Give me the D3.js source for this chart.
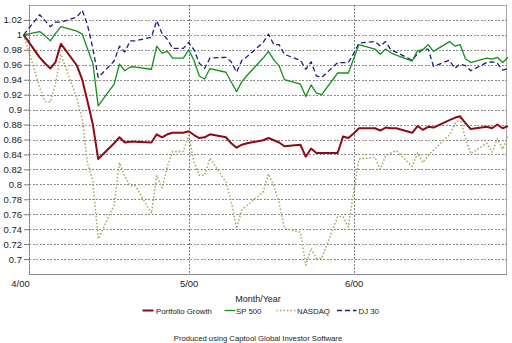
<!DOCTYPE html>
<html>
<head>
<meta charset="utf-8">
<script src="https://cdn.jsdelivr.net/npm/d3@7"></script>
<style>
  html, body { margin: 0; padding: 0; background: #fff; }
  svg { display: block; font-family: Arial, "Liberation Sans", sans-serif; }
</style>
</head>
<body>
<svg id="chart" width="512" height="343"></svg>
<script>
// Trading dates (growth of 1.00 invested on 3/31/00)
const dates = ["2000-03-31","2000-04-03","2000-04-04","2000-04-05","2000-04-06","2000-04-07",
  "2000-04-10","2000-04-11","2000-04-12","2000-04-13","2000-04-14",
  "2000-04-17","2000-04-18","2000-04-19","2000-04-20","2000-04-21",
  "2000-04-24","2000-04-25","2000-04-26","2000-04-27","2000-04-28","2000-04-30",
  "2000-05-01","2000-05-02","2000-05-03","2000-05-04","2000-05-05",
  "2000-05-08","2000-05-09","2000-05-10","2000-05-11","2000-05-12",
  "2000-05-15","2000-05-16","2000-05-17","2000-05-18","2000-05-19",
  "2000-05-22","2000-05-23","2000-05-24","2000-05-25","2000-05-26",
  "2000-05-29","2000-05-30","2000-05-31","2000-06-01","2000-06-02",
  "2000-06-05","2000-06-06","2000-06-07","2000-06-08","2000-06-09",
  "2000-06-12","2000-06-13","2000-06-14","2000-06-15","2000-06-16",
  "2000-06-19","2000-06-20","2000-06-21","2000-06-22","2000-06-23",
  "2000-06-26","2000-06-27","2000-06-28","2000-06-29","2000-06-30"];

const portfolio = [1.000,0.970,0.962,0.955,0.964,0.988,
  0.959,0.940,0.911,0.880,0.834,
  0.855,0.863,0.856,0.857,0.857,
  0.856,0.867,0.863,0.867,0.869,0.869,
  0.871,0.866,0.862,0.863,0.867,
  0.863,0.855,0.849,0.853,0.855,
  0.859,0.862,0.859,0.856,0.851,
  0.853,0.837,0.848,0.842,0.842,
  0.842,0.864,0.862,0.868,0.875,
  0.875,0.872,0.876,0.875,0.875,
  0.869,0.878,0.873,0.877,0.876,
  0.886,0.889,0.891,0.882,0.874,
  0.877,0.875,0.880,0.875,0.878];

const sp500 = [1.000,1.0045,0.999,0.992,1.002,1.011,
  1.005,1.001,0.981,0.962,0.905,
  0.934,0.961,0.952,0.957,0.957,
  0.954,0.985,0.9755,0.978,0.969,0.969,
  0.980,0.966,0.945,0.941,0.955,
  0.950,0.937,0.924,0.9375,0.946,
  0.969,0.978,0.9665,0.9585,0.940,
  0.934,0.9174,0.933,0.922,0.920,
  0.949,0.949,0.949,0.968,0.987,
  0.981,0.974,0.981,0.976,0.973,
  0.965,0.979,0.980,0.987,0.978,
  0.991,0.985,0.987,0.968,0.963,
  0.969,0.9675,0.970,0.963,0.970];

const nasdaq = [1.000,0.930,0.911,0.910,0.935,0.974,
  0.915,0.887,0.828,0.804,0.727,
  0.772,0.829,0.811,0.798,0.798,
  0.761,0.812,0.795,0.824,0.844,0.844,
  0.866,0.830,0.812,0.812,0.835,
  0.803,0.777,0.741,0.766,0.772,
  0.790,0.814,0.798,0.775,0.741,
  0.736,0.692,0.714,0.701,0.701,
  0.757,0.757,0.743,0.790,0.834,
  0.836,0.820,0.838,0.842,0.845,
  0.824,0.842,0.829,0.839,0.846,
  0.866,0.881,0.888,0.862,0.841,
  0.855,0.843,0.861,0.847,0.865];

const dj30 = [1.000,1.027,1.019,1.011,1.017,1.017,
  1.024,1.033,1.013,0.982,0.943,
  0.965,0.985,0.977,0.992,0.992,
  0.997,1.019,1.002,0.994,0.982,0.982,
  0.990,0.980,0.962,0.955,0.969,
  0.970,0.964,0.950,0.966,0.971,
  0.990,1.001,0.987,0.987,0.974,
  0.966,0.954,0.964,0.945,0.943,
  0.963,0.963,0.963,0.975,0.989,
  0.991,0.985,0.991,0.980,0.977,
  0.966,0.975,0.981,0.981,0.958,
  0.966,0.955,0.961,0.959,0.952,
  0.963,0.964,0.962,0.953,0.955];

const seriesNames = ["Portfolio Growth", "SP 500", "NASDAQ", "DJ 30"];
const monthTicks = ["2000-04-01", "2000-05-01", "2000-06-01"];
const yTicks = d3.range(0, 17).map(i => Math.round((0.70 + 0.02 * i) * 100) / 100);

const parse = d3.timeParse("%Y-%m-%d");
const dateObjs = dates.map(parse);

const plot = { left: 29, top: 5, right: 506, bottom: 274 };

const x = d3.scaleTime()
  .domain([parse("2000-04-01"), parse("2000-06-30")])
  .range([plot.left, plot.left + 479]);
const y = d3.scaleLinear().domain([0.68, 1.04]).range([plot.bottom, plot.top]);

const svg = d3.select("#chart");

// plot frame
svg.append("rect")
  .attr("x", plot.left + 0.5).attr("y", plot.top + 0.5)
  .attr("width", plot.right - plot.left).attr("height", plot.bottom - plot.top)
  .attr("fill", "#fff").attr("stroke", "#a8a8a8").attr("stroke-width", 1);

// horizontal grid
const gridY = svg.append("g")
  .attr("transform", `translate(${plot.left},0)`)
  .call(d3.axisLeft(y).tickValues(yTicks).tickSize(-(plot.right - plot.left)).tickFormat(""));
gridY.select(".domain").remove();
gridY.selectAll("line").attr("stroke", "#8a8a8a").attr("stroke-dasharray", "2,1.5")
  .attr("shape-rendering", "crispEdges");

// vertical month grid
svg.append("g").selectAll("line")
  .data(monthTicks.map(parse))
  .join("line")
  .attr("x1", d => Math.round(x(d)) + 0.5).attr("x2", d => Math.round(x(d)) + 0.5)
  .attr("y1", plot.top).attr("y2", plot.bottom)
  .attr("stroke", "#777").attr("stroke-dasharray", "2,1.5");

// bottom axis line
svg.append("line")
  .attr("x1", plot.left).attr("x2", plot.right)
  .attr("y1", plot.bottom + 0.5).attr("y2", plot.bottom + 0.5)
  .attr("stroke", "#888");

// y axis ticks and labels
const yAxis = svg.append("g")
  .attr("transform", `translate(${plot.left},0)`)
  .call(d3.axisLeft(y).tickValues(yTicks).tickSize(5).tickPadding(2)
    .tickFormat(d => String(+d.toFixed(2))));
yAxis.select(".domain").remove();
yAxis.selectAll("line").attr("stroke", "#777");
yAxis.selectAll("text").attr("font-size", "9.5px").attr("fill", "#222")
  .attr("font-family", "Arial, 'Liberation Sans', sans-serif");

// x axis labels
const xAxis = svg.append("g")
  .attr("transform", `translate(0,${plot.bottom})`)
  .call(d3.axisBottom(x).tickValues(monthTicks.map(parse)).tickSize(0).tickPadding(6)
    .tickFormat(d3.timeFormat("%-m/%y")));
xAxis.select(".domain").remove();
xAxis.selectAll("text").attr("font-size", "9.5px").attr("fill", "#222")
  .attr("font-family", "Arial, 'Liberation Sans', sans-serif")
  .attr("dx", (d, i) => i === 0 ? -9 : 0);

// series
const styles = [
  { values: portfolio, color: "#8e0a14", width: 2, dash: null },
  { values: sp500, color: "#12921a", width: 1.3, dash: null },
  { values: nasdaq, color: "#a9a458", width: 1.5, dash: "1.5,2" },
  { values: dj30, color: "#1c1c7e", width: 1.3, dash: "5,3" }
];
const line = d3.line().x(d => x(d[0])).y(d => y(d[1]));

// draw back to front: NASDAQ, DJ, SP, Portfolio
[2, 3, 1, 0].forEach(i => {
  const s = styles[i];
  svg.append("path")
    .datum(dateObjs.map((d, k) => [d, s.values[k]]))
    .attr("d", line)
    .attr("fill", "none")
    .attr("stroke", s.color)
    .attr("stroke-width", s.width)
    .attr("stroke-linejoin", "round")
    .attr("stroke-dasharray", s.dash);
});

// axis title
svg.append("text")
  .attr("x", 258).attr("y", 301.5)
  .attr("text-anchor", "middle")
  .attr("font-size", "9px").attr("fill", "#222")
  .text("Month/Year");

// legend
const legendPos = [
  { x1: 142.5, x2: 153.5, tx: 156 },
  { x1: 224.5, x2: 235, tx: 236 },
  { x1: 276.5, x2: 296.5, tx: 297 },
  { x1: 337, x2: 356.5, tx: 358.5 }
];
const legend = svg.append("g");
seriesNames.forEach((name, i) => {
  const s = styles[i], p = legendPos[i];
  legend.append("line")
    .attr("x1", p.x1).attr("x2", p.x2).attr("y1", 310.5).attr("y2", 310.5)
    .attr("stroke", s.color).attr("stroke-width", i === 0 ? 2 : 1.3)
    .attr("stroke-dasharray", s.dash);
  legend.append("text")
    .attr("x", p.tx).attr("y", 313.5)
    .attr("font-size", "7.8px").attr("fill", "#222")
    .text(name);
});

// footer
svg.append("text")
  .attr("x", 258).attr("y", 340.5)
  .attr("text-anchor", "middle")
  .attr("font-size", "7.7px").attr("fill", "#222")
  .text("Produced using Captool Global Investor Software");
</script>
</body>
</html>
